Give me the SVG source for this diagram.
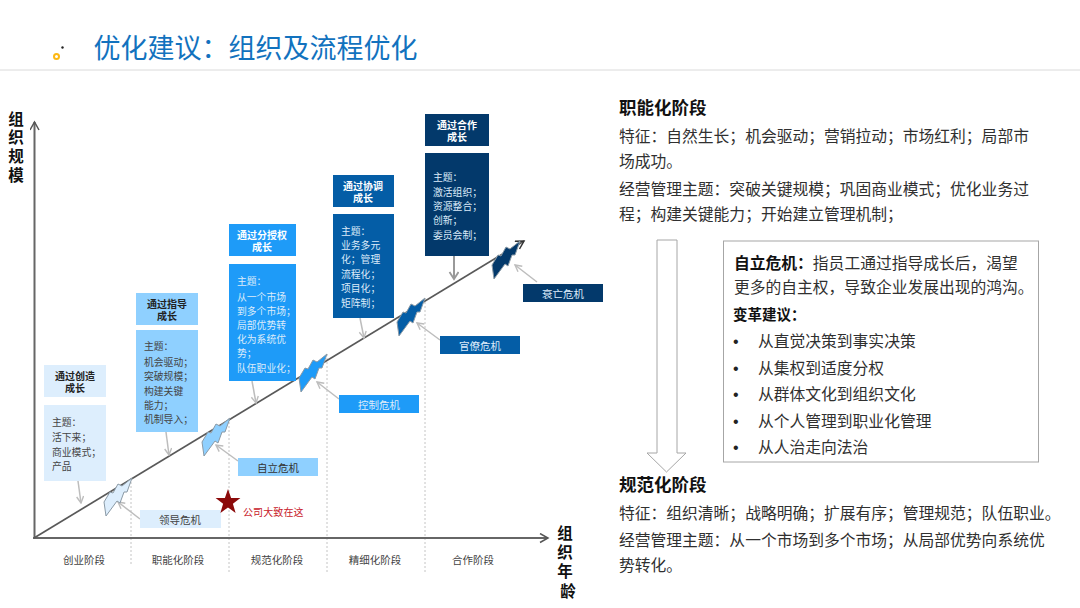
<svg xmlns="http://www.w3.org/2000/svg" xmlns:xlink="http://www.w3.org/1999/xlink" width="1080" height="608" viewBox="0 0 1080 608">
<style>
text{font-family:"Noto Sans CJK SC","Noto Sans",sans-serif}
.title{font-size:27px;fill:#1272BE}
.ax{font-size:15.5px;font-weight:700;fill:#111;text-anchor:middle}
.stage{font-size:10.5px;fill:#444;text-anchor:middle}
.h{font-size:10px;font-weight:700;text-anchor:middle}
.b{font-size:9.8px}
.c{font-size:10.5px;text-anchor:middle}
.d{fill:#444}.w{fill:#fff}.wl{fill:#DCEBFA}
.r{font-size:15.780px;fill:#303030}
.rb{font-size:17.500px;font-weight:700;fill:#111}
.bu{font-family:"Liberation Sans",sans-serif;font-size:16px;fill:#222}
.lead{stroke:#BDBDBD;stroke-width:1.5;fill:none;marker-end:url(#open)}
.div{stroke:#C4C4C4;stroke-width:1;stroke-dasharray:2 2;fill:none}
.axis{stroke:#666;stroke-width:2;fill:none}
</style>
<defs>
<marker id="open" markerWidth="9" markerHeight="9" refX="7.5" refY="4" orient="auto" markerUnits="userSpaceOnUse"><path d="M1 0.5L7.5 4L1 7.5" fill="none" stroke="#BDBDBD" stroke-width="1.4"/></marker>
<marker id="axh" markerWidth="12" markerHeight="12" refX="9" refY="5" orient="auto" markerUnits="userSpaceOnUse"><path d="M1 0.5L9 5L1 9.5" fill="none" stroke="#555" stroke-width="1.5"/></marker>
<marker id="grow" markerWidth="12" markerHeight="12" refX="9" refY="5" orient="auto" markerUnits="userSpaceOnUse"><path d="M1 0.5L9 5L1 9.5" fill="none" stroke="#333" stroke-width="1.5"/></marker>
<marker id="dark" markerWidth="11" markerHeight="11" refX="8" refY="5" orient="auto" markerUnits="userSpaceOnUse"><path d="M1 0.5L8 5L1 9.5" fill="none" stroke="#999" stroke-width="1.8"/></marker>
<path id="bolt" d="M0 0L-5 14L-8 14L-12 25L-15 23L-26 38L-28 24L-22 14L-19 15L-14 6L-10 8Z" stroke="#8B9AA6" stroke-width="1" stroke-linejoin="round"/>
</defs>
<rect width="1080" height="608" fill="#fff"/>

<g id="header">
<line x1="0" y1="70" x2="1080" y2="70" stroke="#DADADA" stroke-width="1"/>
<circle cx="56.5" cy="56.5" r="2.5" fill="none" stroke="#FDB813" stroke-width="2"/>
<circle cx="62.5" cy="47.5" r="1.2" fill="#222"/>
<text class="title" x="93.500" y="58">优化建议：组织及流程优化</text>
</g>

<g id="connectors">
<path class="div" d="M131 478V566M229 418V572M327 354V572M425 298V572"/>
<line class="axis" x1="34.500" y1="539" x2="34.500" y2="122" marker-end="url(#axh)"/>
<line class="axis" x1="33" y1="538" x2="548" y2="538" marker-end="url(#axh)"/>
<line x1="34" y1="538" x2="524" y2="241" stroke="#595959" stroke-width="1.700" marker-end="url(#grow)"/>
<line class="lead" x1="78" y1="481" x2="81" y2="503"/>
<line class="lead" x1="166" y1="432" x2="169" y2="455"/>
<line class="lead" x1="252" y1="381" x2="256" y2="403"/>
<line class="lead" x1="360" y1="318" x2="364" y2="338"/>
<line x1="454" y1="256" x2="454" y2="279" stroke="#999" stroke-width="2" marker-end="url(#dark)"/>
<line class="lead" x1="140" y1="519" x2="118" y2="502"/>
<line class="lead" x1="238" y1="461" x2="216" y2="445"/>
<line class="lead" x1="339" y1="399" x2="317" y2="382"/>
<line class="lead" x1="440" y1="340" x2="417" y2="323"/>
<line class="lead" x1="537" y1="282" x2="515" y2="265"/>
</g>

<g id="crisis-bolts">
<use xlink:href="#bolt" href="#bolt" x="132" y="478" fill="#DDEEFD"/>
<use xlink:href="#bolt" href="#bolt" x="230" y="418" fill="#8FD0FF"/>
<use xlink:href="#bolt" href="#bolt" x="327" y="354" fill="#1E9BF8"/>
<use xlink:href="#bolt" href="#bolt" x="425" y="298" fill="#045DA6"/>
<use xlink:href="#bolt" href="#bolt" x="520" y="241" fill="#03396B"/>
</g>

<g id="stage-create">
<rect x="44" y="365" width="62" height="32" fill="#DDEEFD"/>
<text class="h" x="75" y="380" fill="#222">通过创造<tspan x="75" dy="12">成长</tspan></text>
<rect x="44" y="405" width="62" height="76" fill="#DDEEFD"/>
<text class="b d" x="52" y="426">主题：<tspan x="52" dy="15">活下来；</tspan><tspan x="52" dy="15">商业模式；</tspan><tspan x="52" dy="14">产品</tspan></text>
</g>
<g id="stage-guide">
<rect x="136" y="293" width="62" height="32" fill="#8FD0FF"/>
<text class="h" x="167" y="308" fill="#222">通过指导<tspan x="167" dy="12">成长</tspan></text>
<rect x="136" y="330" width="62" height="102" fill="#8FD0FF"/>
<text class="b d" x="144" y="350">主题：<tspan x="144" dy="16">机会驱动；</tspan><tspan x="144" dy="14">突破规模；</tspan><tspan x="144" dy="15">构建关键</tspan><tspan x="144" dy="14">能力；</tspan><tspan x="144" dy="14">机制导入；</tspan></text>
</g>
<g id="stage-delegate">
<rect x="229" y="224" width="67" height="32" fill="#1E9BF8"/>
<text class="h w" x="262" y="239">通过分授权<tspan x="262" dy="12">成长</tspan></text>
<rect x="229" y="264" width="67" height="117" fill="#1E9BF8"/>
<text class="b wl" x="237" y="285">主题：<tspan x="237" dy="16">从一个市场</tspan><tspan x="237" dy="14">到多个市场；</tspan><tspan x="237" dy="14">局部优势转</tspan><tspan x="237" dy="14">化为系统优</tspan><tspan x="237" dy="14">势；</tspan><tspan x="237" dy="15">队伍职业化；</tspan></text>
</g>
<g id="stage-coord">
<rect x="333" y="175" width="61" height="32" fill="#045DA6"/>
<text class="h w" x="363" y="190">通过协调<tspan x="363" dy="12">成长</tspan></text>
<rect x="333" y="214" width="61" height="104" fill="#045DA6"/>
<text class="b wl" x="341" y="235">主题：<tspan x="341" dy="14">业务多元</tspan><tspan x="341" dy="14">化；管理</tspan><tspan x="341" dy="15">流程化；</tspan><tspan x="341" dy="14">项目化；</tspan><tspan x="341" dy="15">矩阵制；</tspan></text>
</g>
<g id="stage-coop">
<rect x="425" y="114" width="64" height="32" fill="#03396B"/>
<text class="h w" x="457" y="129">通过合作<tspan x="457" dy="12">成长</tspan></text>
<rect x="425" y="153" width="64" height="103" fill="#03396B"/>
<text class="b wl" x="433" y="181">主题：<tspan x="433" dy="15">激活组织；</tspan><tspan x="433" dy="14">资源整合；</tspan><tspan x="433" dy="14">创新；</tspan><tspan x="433" dy="15">委员会制；</tspan></text>
</g>

<g id="crisis-leader"><rect x="140" y="510" width="81" height="18" fill="#DDEEFD"/><text class="c d" x="180" y="524">领导危机</text></g>
<g id="crisis-auto"><rect x="238" y="458" width="80" height="18" fill="#8FD0FF"/><text class="c" x="278" y="472" fill="#333">自立危机</text></g>
<g id="crisis-control"><rect x="339" y="395" width="80" height="18" fill="#1E9BF8"/><text class="c wl" x="379" y="409">控制危机</text></g>
<g id="crisis-bureau"><rect x="440" y="336" width="80" height="18" fill="#045DA6"/><text class="c wl" x="480" y="350">官僚危机</text></g>
<g id="crisis-decline"><rect x="523" y="284" width="80" height="18" fill="#03396B"/><text class="c wl" x="563" y="298">衰亡危机</text></g>

<g id="company-marker">
<polygon points="228,489 231.100,498 240.400,498 232.900,503.700 235.600,513 228,507.400 220.400,513 223.100,503.700 215.600,498 224.900,498" fill="#8B0A0A"/>
<text x="243" y="516" font-size="10" letter-spacing="0.100" fill="#C8202A">公司大致在这</text>
</g>

<g id="axis-labels">
<text class="ax" x="16" y="125">组<tspan x="16" dy="18">织</tspan><tspan x="16" dy="19">规</tspan><tspan x="16" dy="19">模</tspan></text>
<text class="ax" x="565" y="539">组<tspan x="565" dy="19">织</tspan><tspan x="565" dy="19">年</tspan><tspan x="568" dy="20">龄</tspan></text>
<text class="stage" x="84" y="564">创业阶段</text><text class="stage" x="178" y="564">职能化阶段</text><text class="stage" x="277" y="564">规范化阶段</text><text class="stage" x="375" y="564">精细化阶段</text><text class="stage" x="473" y="564">合作阶段</text>
</g>

<g id="phase-top">
<text class="rb" x="619" y="114">职能化阶段</text>
<text class="r" x="619" y="142">特征：自然生长；机会驱动；营销拉动；市场红利；局部市</text>
<text class="r" x="619" y="167">场成功。</text>
<text class="r" x="619" y="195">经营管理主题：突破关键规模；巩固商业模式；优化业务过</text>
<text class="r" x="619" y="220">程；构建关键能力；开始建立管理机制；</text>
</g>

<g id="phase-arrow">
<path d="M657 240H677V453H686L666.500 472L647 453H657Z" fill="#fff" stroke="#A6A6A6" stroke-width="1"/>
</g>

<g id="advice-box">
<rect x="723.500" y="241" width="315" height="221" fill="#fff" stroke="#A6A6A6" stroke-width="1"/>
<text class="r" x="734" y="269"><tspan font-weight="700" fill="#111">自立危机：</tspan>指员工通过指导成长后，渴望</text>
<text class="r" x="734" y="293">更多的自主权，导致企业发展出现的鸿沟。</text>
<text x="733" y="320" font-size="14.500" font-weight="700" fill="#111">变革建议：</text>
<text class="bu" x="733" y="347">•</text><text class="r" x="758" y="347">从直觉决策到事实决策</text>
<text class="bu" x="733" y="374">•</text><text class="r" x="758" y="374">从集权到适度分权</text>
<text class="bu" x="733" y="400">•</text><text class="r" x="758" y="400">从群体文化到组织文化</text>
<text class="bu" x="733" y="427">•</text><text class="r" x="758" y="427">从个人管理到职业化管理</text>
<text class="bu" x="733" y="453">•</text><text class="r" x="758" y="453">从人治走向法治</text>
</g>

<g id="phase-bottom">
<text class="rb" x="619" y="491">规范化阶段</text>
<text class="r" x="619" y="519">特征：组织清晰；战略明确；扩展有序；管理规范；队伍职业。</text>
<text class="r" x="619" y="546">经营管理主题：从一个市场到多个市场；从局部优势向系统优</text>
<text class="r" x="619" y="571">势转化。</text>
</g>
</svg>
